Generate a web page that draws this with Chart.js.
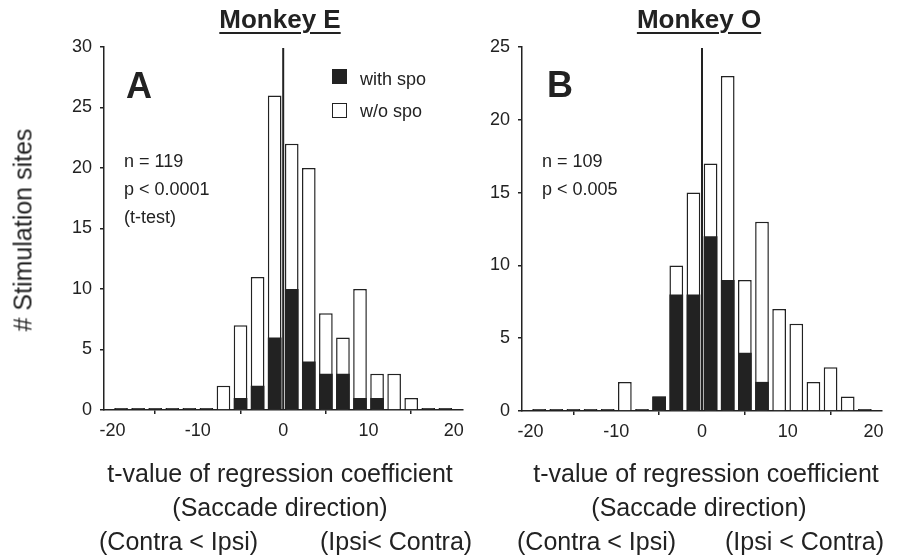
<!DOCTYPE html>
<html lang="en">
<head>
<meta charset="UTF-8">
<title>Monkey E / Monkey O</title>
<script src="https://cdn.jsdelivr.net/npm/chart.js"></script>
<style>
  body { margin: 0; background: #fff; }
  #wrap { position: relative; width: 900px; height: 557px; background: #fff; overflow: hidden;
          font-family: "Liberation Sans", Arial, sans-serif; color: #222; }
  canvas { position: absolute; top: 0; }
  .t { position: absolute; white-space: nowrap; line-height: 1; }
  .mid { transform: translateX(-50%); }
  .title { font-size: 26px; font-weight: bold; text-decoration: underline;
           text-decoration-thickness: 2px; text-underline-offset: 4px; }
  .letter { font-size: 36px; font-weight: bold; }
  .small { font-size: 18px; }
  .big { font-size: 25px; }
  .sq { position: absolute; width: 13px; height: 13px; border: 1.5px solid #222; }
</style>
</head>
<body>
<div id="wrap">
  <canvas id="chartA" width="470" height="557" style="left:0"></canvas>
  <canvas id="chartB" width="430" height="557" style="left:470px"></canvas>

  <div class="t title mid" style="left:280px; top:6px">Monkey E</div>
  <div class="t title mid" style="left:699px; top:6px">Monkey O</div>

  <div class="t letter" style="left:126px; top:68px">A</div>
  <div class="t letter" style="left:547px; top:67px">B</div>

  <div class="sq" style="left:332px; top:69px; background:#222"></div>
  <div class="t small" style="left:360px; top:70px">with spo</div>
  <div class="sq" style="left:332px; top:103px; background:#fff"></div>
  <div class="t small" style="left:360px; top:102px">w/o spo</div>

  <div class="t small" style="left:124px; top:152px">n = 119</div>
  <div class="t small" style="left:124px; top:180px">p &lt; 0.0001</div>
  <div class="t small" style="left:124px; top:208px">(t-test)</div>
  <div class="t small" style="left:542px; top:152px">n = 109</div>
  <div class="t small" style="left:542px; top:180px">p &lt; 0.005</div>

  <div class="t big" style="left:23px; top:230px; transform:translate(-50%,-50%) rotate(-90deg)"># Stimulation sites</div>

  <div class="t big mid" style="left:280px; top:461px">t-value of regression coefficient</div>
  <div class="t big mid" style="left:280px; top:495px">(Saccade direction)</div>
  <div class="t big" style="left:99px; top:529px">(Contra &lt; Ipsi)</div>
  <div class="t big" style="left:320px; top:529px">(Ipsi&lt; Contra)</div>

  <div class="t big mid" style="left:706px; top:461px">t-value of regression coefficient</div>
  <div class="t big mid" style="left:699px; top:495px">(Saccade direction)</div>
  <div class="t big" style="left:517px; top:529px">(Contra &lt; Ipsi)</div>
  <div class="t big" style="left:725px; top:529px">(Ipsi &lt; Contra)</div>
</div>

<script>
// histogram bins are 2 wide, from -20 to 20
const binCenters = [-19, -17, -15, -13, -11, -9, -7, -5, -3, -1, 1, 3, 5, 7, 9, 11, 13, 15, 17, 19];
const xTicks = [-20, -10, 0, 10, 20];

// Monkey E
const totalA = [0, 0, 0, 0, 0, 0, 2, 7, 11, 26, 22, 20, 8, 6, 10, 3, 3, 1, 0, 0];
const withSpoA = [0, 0, 0, 0, 0, 0, 0, 1, 2, 6, 10, 4, 3, 3, 1, 1, 0, 0, 0, 0];
const yTicksA = [0, 5, 10, 15, 20, 25, 30];

// Monkey O
const totalB = [0, 0, 0, 0, 0, 2, 0, 1, 10, 15, 17, 23, 9, 13, 7, 6, 2, 3, 1, 0];
const withSpoB = [0, 0, 0, 0, 0, 0, 0, 1, 8, 8, 12, 9, 4, 2, 0, 0, 0, 0, 0, 0];
const yTicksB = [0, 5, 10, 15, 20, 25];

const ink = '#222';

// vertical line at t = 0, drawn over the bars
const zeroLine = {
  id: 'zeroLine',
  afterDatasetsDraw(chart) {
    const { ctx, chartArea, scales } = chart;
    const x = scales.x.getPixelForValue(0);
    ctx.save();
    ctx.strokeStyle = ink;
    ctx.lineWidth = 2;
    ctx.beginPath();
    ctx.moveTo(x, chartArea.top + 1);
    ctx.lineTo(x, chartArea.bottom);
    ctx.stroke();
    ctx.restore();
  }
};

function toPoints(values) {
  return binCenters.map((c, i) => ({ x: c, y: values[i] }));
}

function makeChart(id, totals, withSpo, yTicks, left, top, right, bottom) {
  const canvas = document.getElementById(id);
  const axisStyle = {
    grid: { drawOnChartArea: false, drawTicks: true, tickLength: 4, color: ink, lineWidth: 1.5 },
    border: { display: true, color: ink, width: 1.5 }
  };
  return new Chart(canvas, {
    type: 'bar',
    data: {
      datasets: [
        {
          label: 'with spo',
          data: toPoints(withSpo),
          backgroundColor: ink,
          borderWidth: 0
        },
        {
          label: 'w/o spo',
          data: toPoints(totals),
          // empty bins show as short dark dashes on the baseline
          backgroundColor: c => (c.raw && c.raw.y === 0 ? ink : '#fff'),
          borderColor: ink,
          borderWidth: 1.5,
          minBarLength: 2
        }
      ]
    },
    options: {
      responsive: false,
      animation: false,
      grouped: false,
      barPercentage: 0.8,
      categoryPercentage: 1,
      layout: { padding: { left: 0, top: top, right: right, bottom: 0 } },
      plugins: { legend: { display: false }, tooltip: { enabled: false } },
      scales: {
        x: Object.assign({
          type: 'linear',
          offset: false,
          min: -21,
          max: 21,
          afterBuildTicks: s => { s.ticks = xTicks.map(v => ({ value: v })); },
          afterFit: s => { s.height = canvas.height - bottom; },
          ticks: { color: ink, padding: 6, font: { family: 'Liberation Sans', size: 18 } }
        }, axisStyle),
        y: Object.assign({
          min: 0,
          max: yTicks[yTicks.length - 1],
          afterBuildTicks: s => { s.ticks = yTicks.map(v => ({ value: v })); },
          afterFit: s => { s.width = left; },
          ticks: { color: ink, padding: 8, font: { family: 'Liberation Sans', size: 18 } }
        }, axisStyle)
      }
    },
    plugins: [zeroLine]
  });
}

makeChart('chartA', totalA, withSpoA, yTicksA, 104, 47, 5, 410);
makeChart('chartB', totalB, withSpoB, yTicksB, 52, 47, 18, 411);
</script>
</body>
</html>
